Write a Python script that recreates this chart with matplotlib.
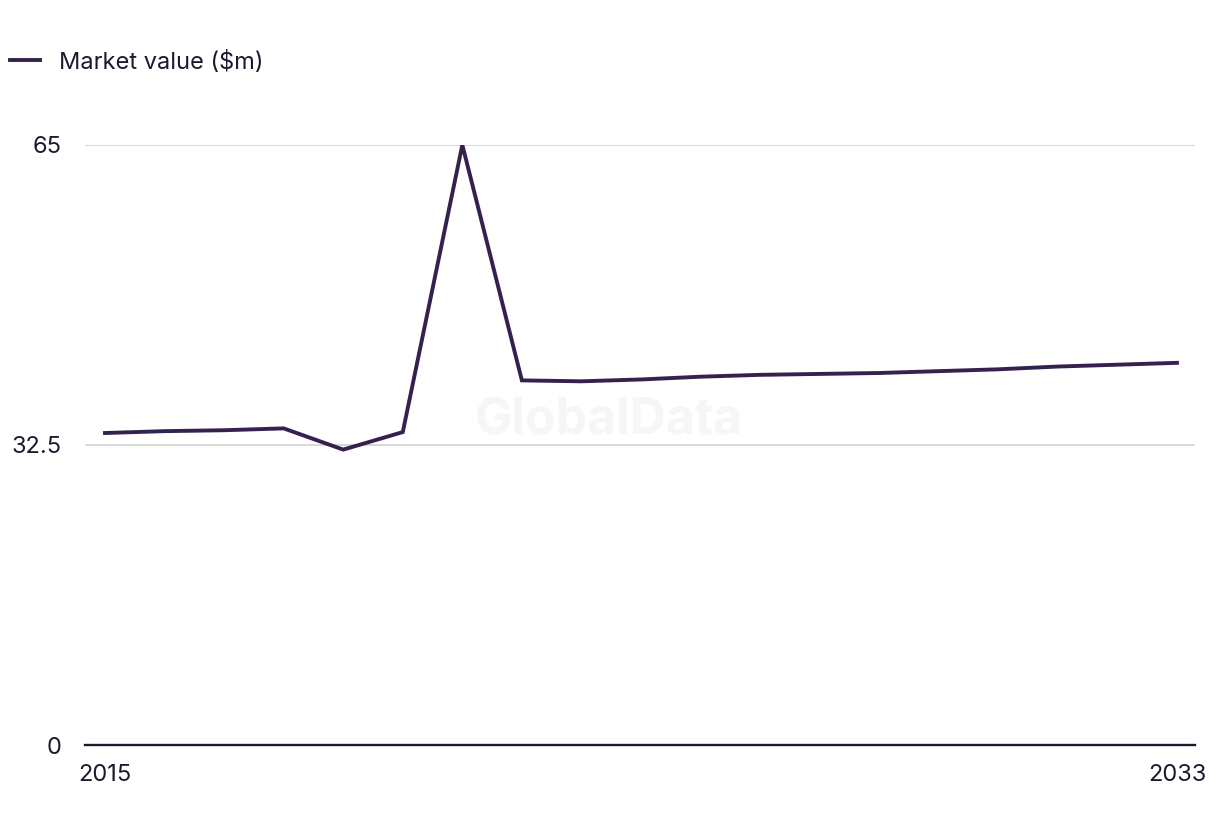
import matplotlib.pyplot as plt

years = list(range(2015, 2034))
market_value = [33.8, 34.0, 34.1, 34.3, 32.0, 33.9, 65.0, 39.5, 39.4, 39.6, 39.9,
                40.1, 40.2, 40.3, 40.5, 40.7, 41.0, 41.2, 41.4]
yticks = [0, 32.5, 65]
ytick_labels = ['0', '32.5', '65']
xticks = [2015, 2033]

plt.rcParams['font.family'] = ['Inter', 'DejaVu Sans']

fig = plt.figure(figsize=(12.2, 8.36), dpi=100)
ax = fig.add_axes([85 / 1220, 1 - 745 / 836, 1110 / 1220, 600 / 836])

ax.plot(years, market_value, color='#35214f', lw=2.8, solid_joinstyle='miter',
        label='Market value ($m)', zorder=3)

ax.set_ylim(0, 65)
ax.set_xlim(2015 - 20 / 59.56, 2033 + 18 / 59.56)
ax.set_yticks(yticks)
ax.set_yticklabels(ytick_labels)
ax.set_xticks(xticks)
ax.set_xticklabels([str(x) for x in xticks])

for y in yticks[1:]:
    ax.axhline(y, color='#d6d6d6', lw=1.3, zorder=1)

for s in ['top', 'right', 'left']:
    ax.spines[s].set_visible(False)
ax.spines['bottom'].set_color('#1b1a2e')
ax.spines['bottom'].set_linewidth(1.7)

ax.tick_params(axis='both', length=0, labelsize=17, colors='#1b1a2e')
ax.tick_params(axis='y', pad=17)
ax.tick_params(axis='x', pad=14)

ax.text(0.472, 0.54, 'GlobalData', transform=ax.transAxes, fontsize=36,
        fontweight='bold', color='#f6f6f6', ha='center', va='center', zorder=0)

leg = fig.legend(loc='upper left', bbox_to_anchor=(-0.009, 0.965), frameon=False,
                 fontsize=17, handlelength=1.27, handletextpad=0.8)
for t in leg.get_texts():
    t.set_color('#1b1a2e')

fig.savefig('out.png', dpi=100)
